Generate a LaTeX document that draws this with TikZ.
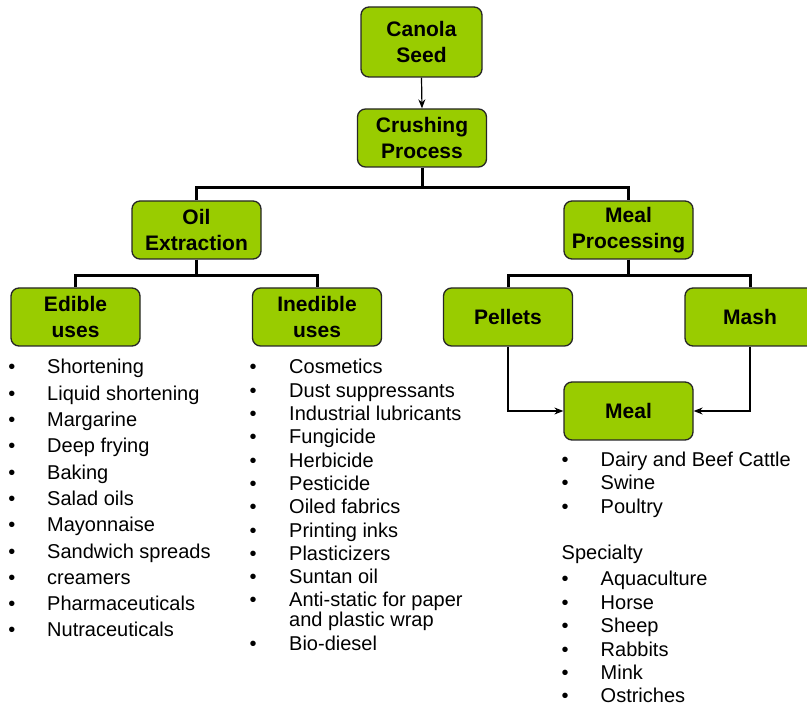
\documentclass[tikz,border=0pt]{standalone}
\usepackage{fontspec}
\setmainfont{Liberation Sans}
\usetikzlibrary{arrows.meta}
\definecolor{boxgreen}{HTML}{99CC00}
\tikzset{
  box/.style={draw=black!85, line width=1.3pt, fill=boxgreen, rounded corners=8pt,
    minimum width=129pt, minimum height=58pt, align=center, inner sep=0pt,
    font=\fontsize{21}{26}\selectfont\bfseries},
  tree/.style={line width=3pt, line join=miter},
  thin/.style={line width=1.2pt, -{Stealth[length=9pt,width=7pt]}},
  item/.style={anchor=base west, inner sep=0pt, font=\fontsize{20}{20}\selectfont},
  bul/.style={anchor=base, inner sep=0pt, font=\fontsize{20}{20}\selectfont},
  wrapitem/.style={item, align=left, font=\fontsize{20}{20}\selectfont}
}
\begin{document}
\begin{tikzpicture}[x=1pt,y=-1pt]
\useasboundingbox (0,0) rectangle (807,708);
% boxes
\node[box, minimum width=121pt, minimum height=70pt] (seed) at (421.5,42) {Canola\\Seed};
\node[box] (crush) at (422,138) {Crushing\\Process};
\node[box] (oil) at (196.5,230) {Oil\\Extraction};
\node[box] (mealp) at (628.5,230) {Meal\\Processing};
\node[box] (edible) at (75.5,317) {Edible\\uses};
\node[box] (inedible) at (317,317) {Inedible\\uses};
\node[box] (pellets) at (508,317) {Pellets};
\node[box, minimum width=130pt] (mash) at (750,317) {Mash};
\node[box] (meal) at (628.5,411) {Meal};
% connectors
\draw[thin] (seed.south) -- (crush.north);
\coordinate (j1) at (422,188);
\draw[tree] (crush.south) -- (j1);
\draw[tree] (oil.north) |- (j1) -| (mealp.north);
\coordinate (j2) at (196.5,276);
\draw[tree] (oil.south) -- (j2);
\draw[tree] (edible.north) |- (j2) -| (inedible.north);
\coordinate (j3) at (628.5,276);
\draw[tree] (mealp.south) -- (j3);
\draw[tree] (pellets.north) |- (j3) -| (mash.north);
\draw[thin] (pellets.south) |- (meal.west);
\draw[thin] (mash.south) |- (meal.east);
% edible list
\foreach \t [count=\i] in {Shortening,Liquid shortening,Margarine,Deep frying,Baking,Salad oils,Mayonnaise,Sandwich spreads,creamers,Pharmaceuticals,Nutraceuticals}{
  \node[bul] (eb\i) at (12,{374+26.3*(\i-1)}) {•};
  \node[item] (e\i) at (47,{374+26.3*(\i-1)}) {\t};
}
% inedible list
\foreach \t [count=\i] in {Cosmetics,Dust suppressants,Industrial lubricants,Fungicide,Herbicide,Pesticide,Oiled fabrics,Printing inks,Plasticizers,Suntan oil}{
  \node[bul] (ib\i) at (253,{374+23.3*(\i-1)}) {•};
  \node[item] (i\i) at (289,{374+23.3*(\i-1)}) {\t};
}
\node[bul] (ib11) at (253,607) {•};
\node[item] (i11) at (289,607) {Anti-static for paper};
\node[item] (i11b) at (289,627) {and plastic wrap};
\node[bul] (ib12) at (253,651) {•};
\node[item] (i12) at (289,651) {Bio-diesel};
% meal list
\foreach \t [count=\i] in {Dairy and Beef Cattle,Swine,Poultry}{
  \node[bul] (mb\i) at (565,{466.5+23.35*(\i-1)}) {•};
  \node[item] (m\i) at (600.5,{466.5+23.35*(\i-1)}) {\t};
}
\node[item] (spec) at (561.5,560) {Specialty};
\foreach \t [count=\i] in {Aquaculture,Horse,Sheep,Rabbits,Mink,Ostriches}{
  \node[bul] (sb\i) at (565,{586+23.35*(\i-1)}) {•};
  \node[item] (s\i) at (600.5,{586+23.35*(\i-1)}) {\t};
}
\end{tikzpicture}
\end{document}
